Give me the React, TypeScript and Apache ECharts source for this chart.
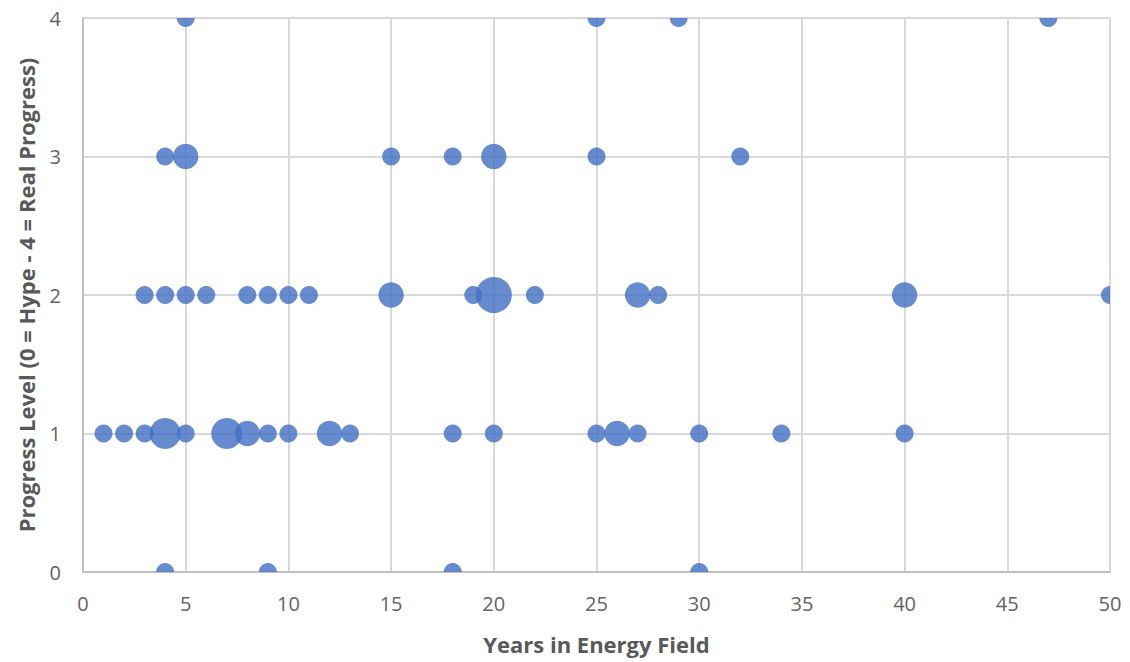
import React, { useEffect, useRef } from "react";
import * as echarts from "echarts";

// [years, level, count]
const level4: number[][] = [[5, 4, 1], [25, 4, 1], [29, 4, 1], [47, 4, 1]];
const level3: number[][] = [[4, 3, 1], [5, 3, 2], [15, 3, 1], [18, 3, 1], [20, 3, 2], [25, 3, 1], [32, 3, 1]];
const level2: number[][] = [
  [3, 2, 1], [4, 2, 1], [5, 2, 1], [6, 2, 1], [8, 2, 1], [9, 2, 1], [10, 2, 1], [11, 2, 1],
  [15, 2, 2], [19, 2, 1], [20, 2, 4], [22, 2, 1], [27, 2, 2], [28, 2, 1], [40, 2, 2], [50, 2, 1],
];
const level1: number[][] = [
  [1, 1, 1], [2, 1, 1], [3, 1, 1], [4, 1, 3], [5, 1, 1], [7, 1, 3], [8, 1, 2], [9, 1, 1], [10, 1, 1],
  [12, 1, 2], [13, 1, 1], [18, 1, 1], [20, 1, 1], [25, 1, 1], [26, 1, 2], [27, 1, 1], [30, 1, 1],
  [34, 1, 1], [40, 1, 1],
];
const level0: number[][] = [[4, 0, 1], [9, 0, 1], [18, 0, 1], [30, 0, 1]];

const xAxisTitle = "Years in Energy Field";
const yAxisTitle = "Progress Level (0 = Hype - 4 = Real Progress)";

const FONT = "'Open Sans', 'Noto Sans', sans-serif";

export default function App() {
  const ref = useRef<HTMLDivElement>(null);
  useEffect(() => {
    document.body.style.margin = "0";
    if (!ref.current) return;
    const chart = echarts.init(ref.current, undefined, { renderer: "svg" });
    const data = [...level4, ...level3, ...level2, ...level1, ...level0];
    chart.setOption({
      animation: false,
      backgroundColor: "#ffffff",
      grid: { left: 83, right: 20, top: 18, bottom: 90, containLabel: false },
      xAxis: {
        type: "value",
        min: 0,
        max: 50,
        interval: 5,
        name: xAxisTitle,
        nameLocation: "middle",
        nameGap: 61,
        nameTextStyle: { fontFamily: FONT, fontSize: 22, fontWeight: "bold", color: "#595959" },
        axisLine: { show: true, lineStyle: { color: "#bfbfbf", width: 2 } },
        axisTick: { show: false },
        axisLabel: { fontFamily: FONT, fontSize: 20, color: "#636363", margin: 21 },
        splitLine: { show: true, lineStyle: { color: "#d9d9d9", width: 2 } },
      },
      yAxis: {
        type: "value",
        min: 0,
        max: 4,
        interval: 1,
        name: yAxisTitle,
        nameLocation: "middle",
        nameGap: 46,
        nameTextStyle: { fontFamily: FONT, fontSize: 22, fontWeight: "bold", color: "#595959" },
        axisLine: { show: true, lineStyle: { color: "#bfbfbf", width: 2 } },
        axisTick: { show: false },
        axisLabel: { fontFamily: FONT, fontSize: 20, color: "#636363", margin: 22 },
        splitLine: { show: true, lineStyle: { color: "#d9d9d9", width: 2 } },
      },
      series: [
        {
          type: "custom",
          clip: true,
          data,
          encode: { x: 0, y: 1 },
          renderItem: (params: any, api: any) => {
            const pt = api.coord([api.value(0), api.value(1)]);
            const r = 9 * Math.sqrt(api.value(2));
            return {
              type: "circle",
              shape: { cx: pt[0], cy: pt[1], r },
              style: { fill: "#4472C4", opacity: 0.82 },
            };
          },
          emphasis: { disabled: true },
        },
      ],
    });
    return () => chart.dispose();
  }, []);
  return <div ref={ref} style={{ width: 1130, height: 662 }} />;
}
